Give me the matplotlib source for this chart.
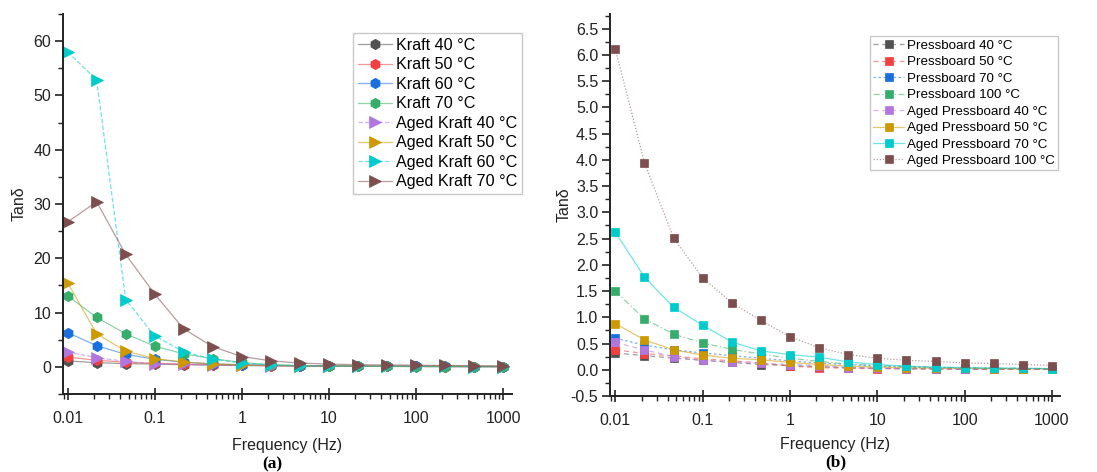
import matplotlib
matplotlib.use("Agg")
import matplotlib.pyplot as plt
from matplotlib.colors import to_rgba
from matplotlib.ticker import (LogLocator, MultipleLocator, NullFormatter, FixedLocator,
                               FixedFormatter, FormatStrFormatter)

plt.rcParams['font.family'] = ['Liberation Sans', 'DejaVu Sans']

# Frequency sweep (Hz), three points per decade
freq = [0.01, 0.0215, 0.0464, 0.1, 0.215, 0.464, 1, 2.15, 4.64, 10,
        21.5, 46.4, 100, 215, 464, 1000]

# (a) Kraft paper
kraft_labels = ["Kraft 40 °C", "Kraft 50 °C", "Kraft 60 °C", "Kraft 70 °C",
                "Aged Kraft 40 °C", "Aged Kraft 50 °C", "Aged Kraft 60 °C", "Aged Kraft 70 °C"]
kraft_40 = [1.1, 0.75, 0.6, 0.5, 0.4, 0.3, 0.25, 0.2, 0.15, 0.12, 0.1, 0.08, 0.07, 0.06, 0.05, 0.05]
kraft_50 = [1.8, 1.2, 0.85, 0.65, 0.5, 0.4, 0.3, 0.22, 0.17, 0.13, 0.1, 0.08, 0.07, 0.06, 0.05, 0.05]
kraft_60 = [6.3, 3.9, 2.3, 1.4, 0.85, 0.55, 0.38, 0.28, 0.2, 0.15, 0.12, 0.1, 0.08, 0.07, 0.06, 0.05]
kraft_70 = [13.1, 9.1, 6.1, 3.8, 2.4, 1.5, 0.8, 0.4, 0.25, 0.15, 0.1, 0.08, 0.06, 0.05, 0.05, 0.04]
aged_kraft_40 = [2.7, 1.7, 1.0, 0.6, 0.45, 0.35, 0.28, 0.22, 0.18, 0.15, 0.12, 0.1, 0.08, 0.07, 0.06, 0.05]
aged_kraft_50 = [15.5, 6.1, 2.9, 1.5, 0.9, 0.55, 0.35, 0.25, 0.18, 0.14, 0.12, 0.1, 0.09, 0.08, 0.07, 0.06]
aged_kraft_60 = [58.0, 52.9, 12.4, 5.7, 2.8, 1.4, 0.7, 0.35, 0.2, 0.15, 0.12, 0.1, 0.08, 0.07, 0.06, 0.05]
aged_kraft_70 = [26.7, 30.4, 20.7, 13.4, 7.0, 3.7, 1.9, 1.1, 0.7, 0.5, 0.4, 0.35, 0.3, 0.25, 0.2, 0.15]

# (b) Pressboard
press_labels = ["Pressboard 40 °C", "Pressboard 50 °C", "Pressboard 70 °C", "Pressboard 100 °C",
                "Aged Pressboard 40 °C", "Aged Pressboard 50 °C", "Aged Pressboard 70 °C",
                "Aged Pressboard 100 °C"]
press_40 = [0.32, 0.27, 0.22, 0.18, 0.14, 0.10, 0.08, 0.06, 0.04, 0.03, 0.02, 0.02, 0.01, 0.01, 0.01, 0.01]
press_50 = [0.38, 0.31, 0.26, 0.21, 0.17, 0.13, 0.07, 0.04, 0.03, 0.02, 0.02, 0.01, 0.01, 0.01, 0.01, 0.01]
press_70 = [0.60, 0.47, 0.38, 0.32, 0.27, 0.22, 0.17, 0.13, 0.10, 0.07, 0.05, 0.04, 0.03, 0.03, 0.02, 0.02]
press_100 = [1.50, 0.97, 0.68, 0.51, 0.39, 0.30, 0.22, 0.16, 0.11, 0.08, 0.06, 0.05, 0.04, 0.03, 0.03, 0.02]
aged_press_40 = [0.52, 0.38, 0.25, 0.18, 0.15, 0.12, 0.10, 0.08, 0.04, 0.03, 0.02, 0.02, 0.01, 0.01, 0.01, 0.01]
aged_press_50 = [0.88, 0.57, 0.38, 0.28, 0.22, 0.19, 0.14, 0.10, 0.07, 0.05, 0.04, 0.03, 0.03, 0.02, 0.02, 0.02]
aged_press_70 = [2.62, 1.77, 1.19, 0.85, 0.53, 0.36, 0.29, 0.24, 0.15, 0.10, 0.07, 0.05, 0.04, 0.03, 0.03, 0.02]
aged_press_100 = [6.11, 3.95, 2.51, 1.75, 1.28, 0.94, 0.63, 0.42, 0.29, 0.22, 0.18, 0.16, 0.13, 0.12, 0.10, 0.08]

colors = ["#515151", "#F14040", "#1A6FDF", "#37AD6B",
          "#B177DE", "#CC9900", "#00CBCC", "#7D4E4E"]

kraft_series = [kraft_40, kraft_50, kraft_60, kraft_70,
                aged_kraft_40, aged_kraft_50, aged_kraft_60, aged_kraft_70]
kraft_markers = ["h"] * 4 + [">"] * 4
kraft_sizes = [7.5] * 4 + [8.5] * 4
kraft_styles = ["-", "-", "-", "-", "--", "-", "--", "-"]

press_series = [press_40, press_50, press_70, press_100,
                aged_press_40, aged_press_50, aged_press_70, aged_press_100]
press_styles = [(0, (4, 3)), (0, (4, 3)), (0, (2, 2)), (0, (5, 2, 1, 2)),
                (0, (4, 3)), "-", "-", (0, (1, 1.5))]

fig = plt.figure(figsize=(10.97, 4.72), dpi=100)
ax_a = fig.add_axes([0.0574, 0.1653, 0.4093, 0.805])
ax_b = fig.add_axes([0.5561, 0.1610, 0.4102, 0.8093])


def style_axes(ax, labelpad):
    ax.set_xscale("log")
    for side in ("top", "right"):
        ax.spines[side].set_visible(False)
    for side in ("left", "bottom"):
        ax.spines[side].set_linewidth(1.4)
        ax.spines[side].set_color("#222222")
    ax.xaxis.set_major_locator(FixedLocator([0.01, 0.1, 1, 10, 100, 1000]))
    ax.xaxis.set_major_formatter(FixedFormatter(["0.01", "0.1", "1", "10", "100", "1000"]))
    ax.xaxis.set_minor_locator(LogLocator(base=10, subs=range(2, 10), numticks=20))
    ax.xaxis.set_minor_formatter(NullFormatter())
    ax.tick_params(axis="x", which="major", direction="inout", length=8, width=1.2,
                   labelsize=11.5, pad=8.5, colors="#222222")
    ax.tick_params(axis="x", which="minor", direction="out", length=3.5, width=1.0,
                   colors="#222222")
    ax.tick_params(axis="y", which="major", direction="out", length=5.5, width=1.2,
                   labelsize=11.5, pad=3, colors="#222222")
    ax.tick_params(axis="y", which="minor", direction="out", length=3.5, width=1.0,
                   colors="#222222")
    ax.set_xlabel("Frequency (Hz)", fontsize=11.5, labelpad=labelpad, color="#222222")
    ax.set_ylabel("Tanδ", fontsize=11.5, color="#222222")


def draw(ax, series, labels, markers, sizes, styles):
    for vals, lab, col, mk, ms, ls in zip(series, labels, colors, markers, sizes, styles):
        ax.plot(freq, vals, linestyle=ls, linewidth=0.9, color=to_rgba(col, 0.55),
                marker=mk, markersize=ms, markerfacecolor=col, markeredgecolor=col,
                markeredgewidth=0.5, label=lab, clip_on=False)


# Panel (a)
style_axes(ax_a, 8.5)
draw(ax_a, kraft_series, kraft_labels, kraft_markers, kraft_sizes, kraft_styles)
ax_a.set_xlim(10 ** -2.054, 10 ** 3.103)
ax_a.set_ylim(-5, 65)
ax_a.yaxis.set_major_locator(MultipleLocator(10))
ax_a.yaxis.set_minor_locator(MultipleLocator(5))
ax_a.yaxis.set_label_coords(-0.082, 0.5)
leg_a = ax_a.legend(loc="upper left", bbox_to_anchor=(0.646, 0.95), fontsize=11.6,
                    frameon=True, fancybox=False, edgecolor="#bbbbbb",
                    handlelength=2.1, handletextpad=0.25, labelspacing=0.28,
                    borderpad=0.3, borderaxespad=0)
leg_a.get_frame().set_linewidth(1.0)

# Panel (b)
style_axes(ax_b, 6.5)
draw(ax_b, press_series, press_labels, ["s"] * 8, [5.8] * 8, press_styles)
ax_b.set_xlim(10 ** -2.061, 10 ** 3.092)
ax_b.set_ylim(-0.5, 6.78)
ax_b.yaxis.set_major_locator(MultipleLocator(0.5))
ax_b.yaxis.set_minor_locator(MultipleLocator(0.25))
ax_b.yaxis.set_major_formatter(FormatStrFormatter("%.1f"))
ax_b.yaxis.set_label_coords(-0.085, 0.5)
leg_b = ax_b.legend(loc="upper left", bbox_to_anchor=(0.578, 0.942), fontsize=9.6,
                    frameon=True, fancybox=False, edgecolor="#bbbbbb",
                    handlelength=2.3, handletextpad=0.2, labelspacing=0.31,
                    borderpad=0.25, borderaxespad=0)
leg_b.get_frame().set_linewidth(1.0)

# Panel captions
fig.text(272 / 1097, 1 - 464 / 472, "(a)", ha="center", va="center",
         fontsize=12.5, fontweight="bold", family="Liberation Serif")
fig.text(836 / 1097, 1 - 462 / 472, "(b)", ha="center", va="center",
         fontsize=12.5, fontweight="bold", family="Liberation Serif")

fig.savefig("out.png", dpi=100)
